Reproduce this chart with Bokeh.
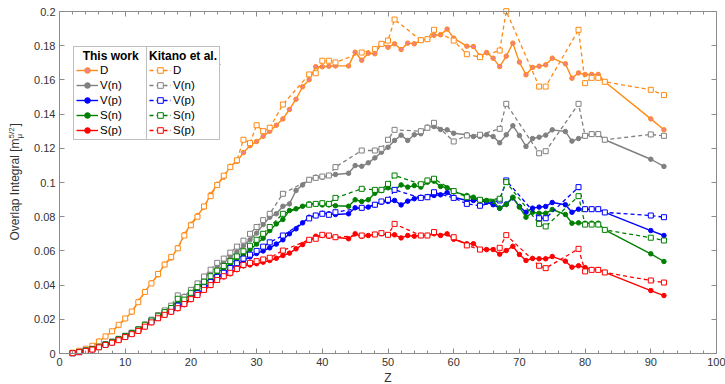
from bokeh.plotting import figure
from bokeh.models import (Legend, LegendItem, LinearAxis, SingleIntervalTicker, Range1d,
                          Label, BoxAnnotation)
from bokeh.embed import file_html
from bokeh.resources import INLINE

# ---------------- data ----------------
Z_this = list(range(2, 43)) + list(range(44, 61)) + list(range(62, 76)) + list(range(77, 84)) + [90, 92]

D_this = [0.0005, 0.0014, 0.0024, 0.0041, 0.0072, 0.0099, 0.0129, 0.0164, 0.0203, 0.0242,
          0.0305, 0.0362, 0.0413, 0.0460, 0.0522, 0.0558, 0.0617, 0.0696, 0.0756, 0.0807,
          0.0856, 0.0930, 0.0990, 0.1031, 0.1095, 0.1123, 0.1175, 0.1215, 0.1240, 0.1270,
          0.1300, 0.1335, 0.1372, 0.1427, 0.1487, 0.1560, 0.1601, 0.1677, 0.1677, 0.1680, 0.1682,
          0.1682, 0.1762, 0.1715, 0.1756, 0.1753, 0.1811, 0.1791, 0.1811, 0.1778, 0.1815,
          0.1811, 0.1832, 0.1838, 0.1861, 0.1864, 0.1897, 0.1844,
          0.1797, 0.1795, 0.1739, 0.1760, 0.1727, 0.1678, 0.1739, 0.1815, 0.1704, 0.1630,
          0.1673, 0.1680, 0.1688, 0.1727,
          0.1694, 0.1610, 0.1641, 0.1632, 0.1632, 0.1632, 0.1589, 0.1372, 0.1308]

Vn_this = [0.0002, 0.0009, 0.0017, 0.0026, 0.0039, 0.0054, 0.0068, 0.0084, 0.0102, 0.0120,
           0.0140, 0.0168, 0.0195, 0.0222, 0.0248, 0.0275, 0.0305, 0.0335, 0.0370, 0.0405,
           0.0440, 0.0475, 0.0510, 0.0540, 0.0565, 0.0595, 0.0630, 0.0665, 0.0704, 0.0754,
           0.0797, 0.0817, 0.0861, 0.0875, 0.0953, 0.0986, 0.1016, 0.1031, 0.1031, 0.1041, 0.1047,
           0.1054, 0.1099, 0.1095, 0.1115, 0.1144, 0.1177, 0.1206, 0.1246, 0.1277, 0.1246,
           0.1279, 0.1285, 0.1324, 0.1327, 0.1310, 0.1308, 0.1288,
           0.1279, 0.1269, 0.1269, 0.1279, 0.1269, 0.1232, 0.1279, 0.1332, 0.1275, 0.1211,
           0.1257, 0.1265, 0.1277, 0.1308,
           0.1298, 0.1242, 0.1257, 0.1273, 0.1283, 0.1283, 0.1250, 0.1136, 0.1094]

Vp_this = [0.0002, 0.0008, 0.0015, 0.0024, 0.0037, 0.0052, 0.0065, 0.0080, 0.0098, 0.0115,
           0.0135, 0.0160, 0.0185, 0.0208, 0.0228, 0.0248, 0.0270, 0.0292, 0.0322, 0.0348,
           0.0380, 0.0410, 0.0440, 0.0465, 0.0490, 0.0518, 0.0545, 0.0565, 0.0585, 0.0600,
           0.0618, 0.0640, 0.0665, 0.0700, 0.0729, 0.0764, 0.0797, 0.0807, 0.0820, 0.0817, 0.0813,
           0.0817, 0.0852, 0.0850, 0.0856, 0.0869, 0.0885, 0.0889, 0.0895, 0.0869, 0.0891,
           0.0905, 0.0914, 0.0918, 0.0924, 0.0928, 0.0941, 0.0914,
           0.0895, 0.0895, 0.0895, 0.0885, 0.0870, 0.0850, 0.0875, 0.0910, 0.0860, 0.0826,
           0.0850, 0.0856, 0.0860, 0.0883,
           0.0870, 0.0826, 0.0844, 0.0844, 0.0844, 0.0844, 0.0825, 0.0719, 0.0690]

Sn_this = [0.0002, 0.0009, 0.0016, 0.0025, 0.0038, 0.0053, 0.0067, 0.0082, 0.0100, 0.0118,
           0.0138, 0.0165, 0.0190, 0.0215, 0.0238, 0.0262, 0.0290, 0.0318, 0.0348, 0.0380,
           0.0410, 0.0440, 0.0472, 0.0500, 0.0525, 0.0552, 0.0580, 0.0608, 0.0640, 0.0674,
           0.0719, 0.0758, 0.0784, 0.0836, 0.0846, 0.0861, 0.0875, 0.0875, 0.0869, 0.0869, 0.0864,
           0.0861, 0.0899, 0.0889, 0.0899, 0.0937, 0.0953, 0.0969, 0.0957, 0.0986, 0.0973,
           0.0982, 0.0973, 0.1002, 0.1008, 0.0977, 0.0969, 0.0947,
           0.0924, 0.0914, 0.0899, 0.0895, 0.0889, 0.0850, 0.0871, 0.0914, 0.0856, 0.0797,
           0.0826, 0.0820, 0.0820, 0.0842,
           0.0813, 0.0762, 0.0764, 0.0762, 0.0762, 0.0762, 0.0723, 0.0583, 0.0538]

Sp_this = [0.0002, 0.0008, 0.0014, 0.0022, 0.0035, 0.0050, 0.0062, 0.0077, 0.0095, 0.0112,
           0.0130, 0.0155, 0.0180, 0.0205, 0.0225, 0.0242, 0.0262, 0.0285, 0.0315, 0.0340,
           0.0370, 0.0398, 0.0428, 0.0448, 0.0466, 0.0490, 0.0512, 0.0518, 0.0525, 0.0534,
           0.0544, 0.0557, 0.0573, 0.0587, 0.0612, 0.0637, 0.0661, 0.0686, 0.0690, 0.0686, 0.0680,
           0.0671, 0.0700, 0.0686, 0.0690, 0.0696, 0.0700, 0.0694, 0.0694, 0.0676, 0.0690,
           0.0686, 0.0690, 0.0690, 0.0700, 0.0690, 0.0700, 0.0668,
           0.0642, 0.0642, 0.0608, 0.0608, 0.0608, 0.0581, 0.0602, 0.0627, 0.0579, 0.0544,
           0.0556, 0.0554, 0.0554, 0.0567,
           0.0540, 0.0505, 0.0513, 0.0503, 0.0491, 0.0491, 0.0474, 0.0368, 0.0339]

Z_kit = list(range(2, 33)) + [34, 38, 39, 40, 41, 42, 46, 48, 49, 50, 51, 55, 56, 57,
                              60, 62, 64, 67, 68, 73, 74, 79, 80, 81, 82, 83, 90, 92]

D_kit = [0.0005, 0.0016, 0.0028, 0.0045, 0.0070, 0.0100, 0.0130, 0.0168, 0.0205, 0.0245,
         0.0300, 0.0360, 0.0410, 0.0465, 0.0520, 0.0565,
         0.0615, 0.0690, 0.0750, 0.0800, 0.0860, 0.0920, 0.0985, 0.1040, 0.1090, 0.1130,
         0.1250, 0.1230, 0.1335, 0.1300, 0.1320,
         0.1456, 0.1632, 0.1639, 0.1712, 0.1712, 0.1702, 0.1760, 0.1780, 0.1811, 0.1830,
         0.1953, 0.1832, 0.1838, 0.1893, 0.1830, 0.1750, 0.1733, 0.1772, 0.2002, 0.1561,
         0.1561, 0.1893, 0.1581, 0.1612, 0.1612, 0.1589, 0.1542, 0.1511]

Vn_kit = [0.0002, 0.0010, 0.0018, 0.0028, 0.0040, 0.0055, 0.0070, 0.0086, 0.0104, 0.0122,
          0.0143, 0.0170, 0.0198, 0.0225, 0.0252, 0.0280,
          0.0340, 0.0330, 0.0372, 0.0410, 0.0450, 0.0490, 0.0530, 0.0555, 0.0590, 0.0625,
          0.0660, 0.0700, 0.0740, 0.0780, 0.0817,
          0.0934, 0.1016, 0.1027, 0.1035, 0.1041, 0.1090, 0.1187, 0.1187, 0.1197, 0.1250,
          0.1308, 0.1300, 0.1320, 0.1349, 0.1240, 0.1275, 0.1279, 0.1314, 0.1460, 0.1171,
          0.1183, 0.1460, 0.1273, 0.1283, 0.1283, 0.1250, 0.1281, 0.1273]

Vp_kit = [0.0002, 0.0008, 0.0016, 0.0025, 0.0038, 0.0052, 0.0066, 0.0082, 0.0100, 0.0118,
          0.0138, 0.0162, 0.0188, 0.0210, 0.0232, 0.0252,
          0.0280, 0.0290, 0.0328, 0.0352, 0.0388, 0.0418, 0.0448, 0.0472, 0.0500, 0.0528,
          0.0555, 0.0578, 0.0600, 0.0625, 0.0650,
          0.0690, 0.0790, 0.0807, 0.0817, 0.0811, 0.0826, 0.0852, 0.0870, 0.0889, 0.0899,
          0.0957, 0.0910, 0.0914, 0.0943, 0.0910, 0.0875, 0.0864, 0.0895, 0.1012, 0.0791,
          0.0791, 0.0973, 0.0844, 0.0844, 0.0844, 0.0825, 0.0807, 0.0797]

Sn_kit = [0.0002, 0.0009, 0.0017, 0.0026, 0.0039, 0.0054, 0.0068, 0.0084, 0.0102, 0.0120,
          0.0140, 0.0168, 0.0193, 0.0218, 0.0242, 0.0266,
          0.0320, 0.0315, 0.0355, 0.0388, 0.0420, 0.0452, 0.0485, 0.0512, 0.0540, 0.0568,
          0.0598, 0.0630, 0.0665, 0.0700, 0.0740,
          0.0817, 0.0870, 0.0875, 0.0879, 0.0875, 0.0910, 0.0963, 0.0957, 0.0957, 0.0992,
          0.1041, 0.0990, 0.1012, 0.1022, 0.0950, 0.0914, 0.0899, 0.0905, 0.1002, 0.0758,
          0.0743, 0.0920, 0.0754, 0.0754, 0.0754, 0.0723, 0.0677, 0.0661]

Sp_kit = [0.0002, 0.0008, 0.0015, 0.0023, 0.0036, 0.0050, 0.0063, 0.0078, 0.0096, 0.0113,
          0.0132, 0.0157, 0.0182, 0.0206, 0.0226, 0.0244,
          0.0265, 0.0290, 0.0318, 0.0342, 0.0372, 0.0400, 0.0430, 0.0452, 0.0472, 0.0495,
          0.0518, 0.0530, 0.0540, 0.0550, 0.0560,
          0.0602, 0.0665, 0.0671, 0.0694, 0.0690, 0.0680, 0.0690, 0.0696, 0.0704, 0.0694,
          0.0758, 0.0690, 0.0690, 0.0710, 0.0680, 0.0632, 0.0608, 0.0618, 0.0692, 0.0513,
          0.0499, 0.0612, 0.0480, 0.0489, 0.0489, 0.0474, 0.0427, 0.0415]

labels = ["D", "V(n)", "V(p)", "S(n)", "S(p)"]
colors = ["#FF8A14", "#808080", "#0000FF", "#008000", "#FF0000"]
fills = ["#F2808A", "#808080", "#0000FF", "#008000", "#FF0000"]
this_series = [D_this, Vn_this, Vp_this, Sn_this, Sp_this]
kit_series = [D_kit, Vn_kit, Vp_kit, Sn_kit, Sp_kit]

X_MIN, X_MAX = 0, 100
Y_MIN, Y_MAX = 0, 0.2

FONT = "Liberation Sans"
AXC = "#8c8c8c"
TXC = "#333333"

# ---- geometry: plot box from px 59..716 (x) and 11..353 (y) inside a 725x384 canvas ----
W, H = 725, 384
BOX_L, BOX_R, BOX_T, BOX_B = 59, 716, 11, 353
kx = (BOX_R - BOX_L) / (X_MAX - X_MIN)
ky = (BOX_B - BOX_T) / (Y_MAX - Y_MIN)
xr = Range1d(X_MIN - BOX_L / kx, X_MAX + (W - BOX_R) / kx)
yr = Range1d(Y_MIN - (H - BOX_B) / ky, Y_MAX + BOX_T / ky)

def px2x(px):
    return X_MIN + (px - BOX_L) / kx

def py2y(py):
    return Y_MIN + (BOX_B - py) / ky

p = figure(width=W, height=H, output_backend="svg", toolbar_location=None,
           x_range=xr, y_range=yr, x_axis_location=None, y_axis_location=None,
           min_border=0, min_border_left=0, min_border_right=0,
           min_border_top=0, min_border_bottom=0)
p.grid.visible = False
p.outline_line_color = None
p.background_fill_color = "white"
p.border_fill_color = "white"

def style_axis(ax, show_labels):
    ax.axis_line_color = AXC
    ax.major_tick_line_color = AXC
    ax.minor_tick_line_color = AXC
    ax.major_tick_in = 5
    ax.major_tick_out = 0
    ax.minor_tick_in = 3
    ax.minor_tick_out = 0
    ax.major_label_text_font = FONT
    if show_labels:
        ax.major_label_text_color = TXC
        ax.major_label_text_font_size = "11px"
        ax.major_label_standoff = 4
    else:
        ax.major_label_text_color = None
        ax.major_label_text_font_size = "1px"
        ax.major_label_standoff = 0

bottom_ax = LinearAxis(fixed_location=Y_MIN, bounds=(X_MIN, X_MAX),
                       ticker=SingleIntervalTicker(interval=10, num_minor_ticks=5))
left_ax = LinearAxis(fixed_location=X_MIN, bounds=(Y_MIN, Y_MAX),
                     ticker=SingleIntervalTicker(interval=0.02, num_minor_ticks=0))
top_ax = LinearAxis(fixed_location=Y_MAX, bounds=(X_MIN, X_MAX),
                    ticker=SingleIntervalTicker(interval=10, num_minor_ticks=5))
right_ax = LinearAxis(fixed_location=X_MAX, bounds=(Y_MIN, Y_MAX),
                      ticker=SingleIntervalTicker(interval=0.02, num_minor_ticks=0))
style_axis(bottom_ax, True)
style_axis(left_ax, True)
style_axis(top_ax, False)
style_axis(right_ax, False)
left_ax.major_label_overrides = {0: "0"}
bottom_ax.axis_label = "Z"
bottom_ax.axis_label_text_font = FONT
bottom_ax.axis_label_text_font_size = "12px"
bottom_ax.axis_label_text_font_style = "normal"
bottom_ax.axis_label_text_color = TXC
bottom_ax.axis_label_standoff = 2
p.add_layout(bottom_ax, "below")
p.add_layout(left_ax, "left")
p.add_layout(top_ax, "above")
p.add_layout(right_ax, "right")

items_this = []
items_kit = []
for lab, col, fc, ys in zip(labels, colors, fills, this_series):
    lr = p.line(Z_this, ys, line_color=col, line_width=1.4)
    sr = p.scatter(Z_this, ys, marker="circle", size=4.5, line_color=col, fill_color=fc, line_width=1)
    items_this.append(LegendItem(label=lab, renderers=[lr, sr]))
for lab, col, ys in zip(labels, colors, kit_series):
    lr = p.line(Z_kit, ys, line_color=col, line_width=1.3, line_dash="4 3")
    sr = p.scatter(Z_kit, ys, marker="square", size=5, line_color=col, fill_color="white", line_width=1)
    items_kit.append(LegendItem(label=lab, renderers=[lr, sr]))

def make_legend(title, items, loc):
    lg = Legend(items=items, title=title, location=loc)
    lg.title_text_font = FONT
    lg.title_text_font_style = "bold"
    lg.title_text_font_size = "12px"
    lg.title_text_color = "#000000"
    lg.title_standoff = 0
    lg.label_text_font = FONT
    lg.label_text_font_size = "11.5px"
    lg.label_text_color = "#000000"
    lg.glyph_width = 22
    lg.glyph_height = 14
    lg.label_height = 14
    lg.label_standoff = 2
    lg.spacing = 1
    lg.padding = 2
    lg.margin = 0
    lg.border_line_color = "#808080"
    lg.border_line_width = 1
    lg.background_fill_color = "white"
    lg.background_fill_alpha = 1
    return lg

LEG_L, LEG_B = 73, 140
leg1 = make_legend("\u00a0\u00a0This work\u00a0\u00a0", items_this, (LEG_L, H - LEG_B))
leg2 = make_legend("Kitano et al.", items_kit, (LEG_L + 73, H - LEG_B))
p.add_layout(leg1)
p.add_layout(leg2)
sep = BoxAnnotation(left=px2x(LEG_L), right=px2x(220), top=py2y(63.5), bottom=py2y(64.5),
                    fill_color="#808080", fill_alpha=1, line_color=None, level="overlay")
p.add_layout(sep)

# y axis label with sub/superscript
lab_kw = dict(angle=90, angle_units="deg", text_align="left", text_baseline="middle",
              text_font=FONT, text_color=TXC)
p.add_layout(Label(x=px2x(14), y=py2y(240), text="Overlap Integral [m", text_font_size="12px", **lab_kw))
p.add_layout(Label(x=px2x(18.5), y=py2y(138), text="\u03bc", text_font_size="8px", **lab_kw))
p.add_layout(Label(x=px2x(11), y=py2y(138), text="5/2", text_font_size="8px", **lab_kw))
p.add_layout(Label(x=px2x(14), y=py2y(126), text="]", text_font_size="12px", **lab_kw))

open("out.html", "w").write(file_html(p, INLINE))
